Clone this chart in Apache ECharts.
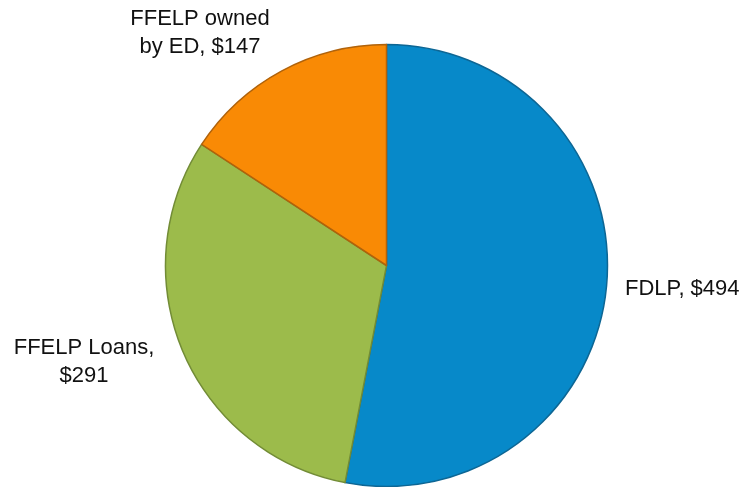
<!DOCTYPE html>
<html>
<head>
<meta charset="utf-8">
<script src="https://cdn.jsdelivr.net/npm/echarts@6/dist/echarts.min.js"></script>
<style>
  html, body { margin: 0; padding: 0; background: #fff; }
  #chart { width: 751px; height: 487px; }
</style>
</head>
<body>
<div id="chart"></div>
<script>
// 数据
const categories = ['FDLP', 'FFELP Loans', 'FFELP owned\nby ED'];
const values = [494, 291, 147];
const colors = ['#0789c9', '#9cbb4b', '#f98a05'];
const borders = ['#0d6694', '#728c36', '#b0620a'];

// label placement (x, y, align) for each slice
const labelPos = [
    { x: 625, y: 289, align: 'left' },
    { x: 84, y: 362, align: 'center' },
    { x: 200, y: 33, align: 'center' }
];

const chart = echarts.init(document.getElementById('chart'));

const data = categories.map((name, i) => ({
    name: name,
    value: values[i],
    itemStyle: { color: colors[i], borderColor: borders[i] }
}));

const option = {
    animation: false,
    backgroundColor: '#fff',
    series: [{
        type: 'pie',
        center: [386.5, 265.5],
        radius: [0, 221],
        startAngle: 90,
        clockwise: true,
        data: data,
        itemStyle: { borderWidth: 1.5 },
        label: {
            show: true,
            color: '#111',
            fontFamily: 'Liberation Sans, Arial, sans-serif',
            fontSize: 22,
            lineHeight: 28,
            overflow: 'none',
            width: 200,
            formatter: p => p.dataIndex === 1 ? p.name + ',\n$' + p.value : p.name + ', $' + p.value
        },
        labelLine: { show: false },
        labelLayout: p => {
            const lp = labelPos[p.dataIndex];
            return { x: lp.x, y: lp.y, align: lp.align, verticalAlign: 'middle', width: 200 };
        }
    }]
};

chart.setOption(option);
</script>
</body>
</html>
